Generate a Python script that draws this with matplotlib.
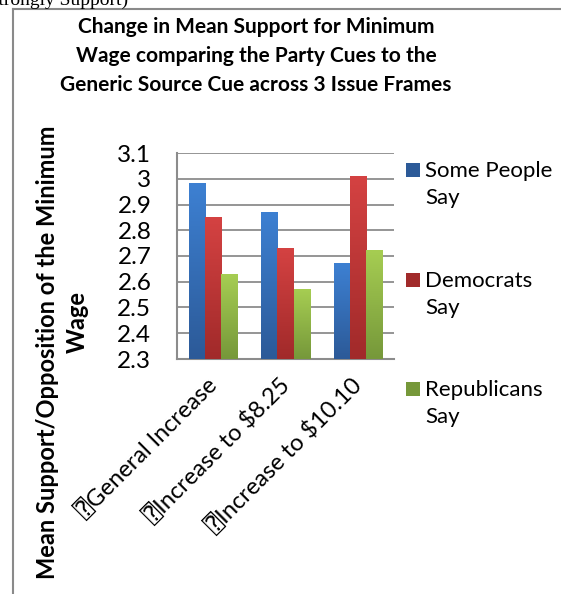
import matplotlib
matplotlib.use("Agg")
import matplotlib.pyplot as plt
import numpy as np
from matplotlib.colors import LinearSegmentedColormap
from matplotlib.lines import Line2D
from matplotlib.patches import Rectangle

# data
frames = ["General Increase", "Increase to $8.25", "Increase to $10.10"]
series = ["Some People\nSay", "Democrats\nSay", "Republicans\nSay"]
some_people = [2.98, 2.87, 2.67]
democrats = [2.85, 2.73, 3.01]
republicans = [2.63, 2.57, 2.72]
yticks = [2.3, 2.4, 2.5, 2.6, 2.7, 2.8, 2.9, 3.0, 3.1]
ytick_labels = ["2.3", "2.4", "2.5", "2.6", "2.7", "2.8", "2.9", "3", "3.1"]

# gradient colours (top, bottom) per series
grad = [("#3d80d2", "#2c5a98"),
        ("#d44242", "#a12a2a"),
        ("#a6cd52", "#76983a")]

plt.rcParams['font.family'] = ['Lato', 'DejaVu Sans', 'DejaVu Sans Mono']

W, H = 561, 594
fig = plt.figure(figsize=(W / 100, H / 100), dpi=100, facecolor='w')

def fx(px):
    return px / W

def fy(py):
    return 1 - py / H

ax = fig.add_axes([fx(177), fy(359), fx(394) - fx(177), fy(153) - fy(359)])

x = np.arange(len(frames))
bw = 0.223
ymin, ymax = 2.3, 3.1
for i, vals in enumerate([some_people, democrats, republicans]):
    bars = ax.bar(x + (i - 1) * bw, vals, bw, color=grad[i][1], zorder=2)
    cmap = LinearSegmentedColormap.from_list("g%d" % i, [grad[i][1], grad[i][0]])
    for b in bars:
        x0 = b.get_x()
        x1 = x0 + b.get_width()
        top = b.get_height()
        g = np.linspace(0, 1, 64).reshape(-1, 1)
        ax.imshow(g, extent=[x0, x1, ymin, top], origin='lower', aspect='auto',
                  cmap=cmap, zorder=3, interpolation='bicubic')

ax.set_xlim(-0.5, 2.5)
ax.set_ylim(ymin, ymax)
ax.set_yticks(yticks)
ax.set_yticklabels(ytick_labels, fontsize=17.5)
ax.set_xticks(x)
ax.set_xticklabels(["\u2370" + f for f in frames], rotation=45, ha='right',
                   va='center', rotation_mode='anchor', fontsize=17)
ax.tick_params(axis='y', length=0, pad=18.5)
ax.tick_params(axis='x', length=0, pad=16)
ax.yaxis.grid(True, color='#8c8c8c', lw=1.3, zorder=0)
ax.set_axisbelow(True)
for s in ['top', 'right']:
    ax.spines[s].set_visible(False)
for s in ['left', 'bottom']:
    ax.spines[s].set_color('#8c8c8c')
    ax.spines[s].set_linewidth(1.5)

# title
title_lines = ["Change in Mean Support for Minimum",
               "Wage comparing the Party Cues to the",
               "Generic Source Cue across 3 Issue Frames"]
for k, t in enumerate(title_lines):
    fig.text(fx(256), fy(27 + 29 * k), t, ha='center', va='center',
             fontsize=15, fontweight='bold')

# y axis title (two lines, as in the reference)
fig.text(fx(48), fy(352), "Mean Support/Opposition of the Minimum",
         rotation=90, ha='center', va='center', fontsize=17, fontweight='bold')
fig.text(fx(77), fy(322), "Wage",
         rotation=90, ha='center', va='center', fontsize=17, fontweight='bold')

# legend
leg_y = [170, 280, 389]
for k, lab in enumerate(series):
    fig.patches.append(Rectangle((fx(406), fy(leg_y[k] + 7)), fx(14), 14 / H,
                                 transform=fig.transFigure,
                                 facecolor=grad[k][1], edgecolor='none'))
    fig.text(fx(425), fy(leg_y[k] - 9), lab, ha='left', va='top',
             fontsize=16, linespacing=1.45)

# frame of the embedded chart
fig.add_artist(Line2D([fx(12.5), fx(12.5)], [fy(9), 0], color='#8a8a8a', lw=1.5))
fig.add_artist(Line2D([fx(12.5), 1], [fy(9), fy(9)], color='#8a8a8a', lw=1.5))

# cut off caption text from the page above
fig.text(fx(128), fy(5), "(Strongly Support)", ha='right', va='baseline',
         fontsize=14, family='Liberation Serif')

fig.savefig("out.png", dpi=100)
